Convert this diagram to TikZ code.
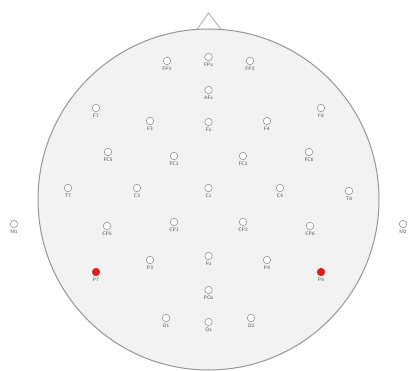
\documentclass[tikz,border=0pt]{standalone}
\usepackage{xcolor}
\usetikzlibrary{positioning, math}

\definecolor{headgray}{RGB}{242,242,242}
\definecolor{rimgray}{RGB}{150,150,150}
\definecolor{redchan}{RGB}{222,30,30}

\tikzset{
electrode/.style={circle, draw=rimgray, fill=white, line width=0.6, minimum size=7.5, inner sep=0},
refchan/.style={electrode, draw=redchan, fill=redchan},
elabel/.style={font=\fontsize{5}{6}\selectfont\sffamily, text=black!70, inner sep=0.3}
}

\begin{document}
\begin{tikzpicture}[x=1pt,y=-1pt]
\tikzmath{
\cx=208.5;
\cy=199.5;
\R=170.5;
}
\useasboundingbox (0,0) rectangle (409,371);

% nose
\draw[rimgray!80, line width=0.8, fill=white] (\cx-12,\cy-\R+1) -- (\cx,13) -- (\cx+13,\cy-\R+1);

% head
\draw[rimgray, line width=1, fill=headgray] (\cx,\cy) circle[radius=\R];

% channels
\foreach \lab/\xp/\yp in {FP1/167/61, FPz/208.5/57, FP2/250/61, AFz/208.5/90,
  F7/96/108, F3/150/121, Fz/208.5/122, F4/267/121, F8/321/108,
  FC5/108/152, FC1/174/156, FC2/243/156, FC6/309/152,
  T7/68/188, C3/137/188, Cz/208.5/188, C4/280/188, T8/349/191,
  M1/14/224, CP5/107/226, CP1/174/222, CP2/243/222, CP6/310/226, M2/403/224,
  P3/150/260, Pz/208.5/256, P4/267/260,
  POz/208.5/290, O1/166/318, Oz/208.5/322, O2/251/318}{
\node[electrode] (\lab) at (\xp,\yp) {};
\node[elabel, below=1.5pt of \lab] (\lab-t) {\lab};
}

% reference channels
\foreach \lab/\xp/\yp in {P7/96/272, P8/321/272}{
\node[refchan] (\lab) at (\xp,\yp) {};
\node[elabel, below=1.5pt of \lab] (\lab-t) {\lab};
}

\end{tikzpicture}
\end{document}
